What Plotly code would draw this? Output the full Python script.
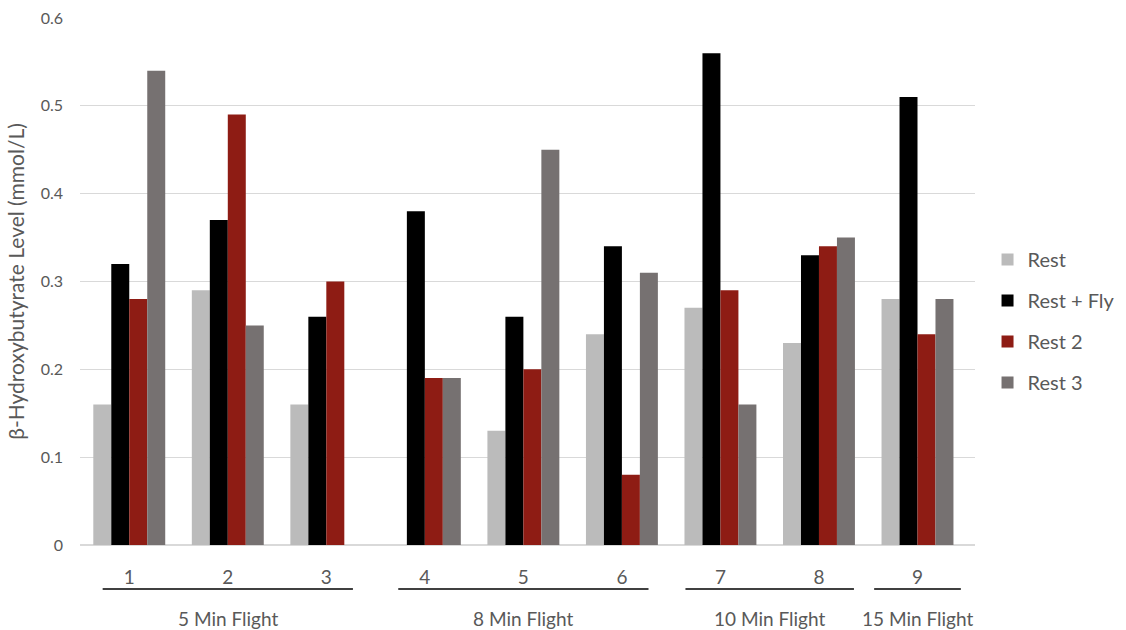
import plotly.graph_objects as go

categories = ["1", "2", "3", "4", "5", "6", "7", "8", "9"]
rest = [0.16, 0.29, 0.16, None, 0.13, 0.24, 0.27, 0.23, 0.28]
rest_fly = [0.32, 0.37, 0.26, 0.38, 0.26, 0.34, 0.56, 0.33, 0.51]
rest2 = [0.28, 0.49, 0.30, 0.19, 0.20, 0.08, 0.29, 0.34, 0.24]
rest3 = [0.54, 0.25, None, 0.19, 0.45, 0.31, 0.16, 0.35, 0.28]

group_names = ["5 Min Flight", "8 Min Flight", "10 Min Flight", "15 Min Flight"]
group_members = [["1", "2", "3"], ["4", "5", "6"], ["7", "8"], ["9"]]

series = [
    ("Rest", rest, "#BBBBBB"),
    ("Rest + Fly", rest_fly, "#000000"),
    ("Rest 2", rest2, "#8E1C14"),
    ("Rest 3", rest3, "#767171"),
]

FONT = "Lato, 'Open Sans', Arial, sans-serif"
TXT = "#595959"

fig = go.Figure()
for i, (name, vals, col) in enumerate(series):
    fig.add_trace(go.Bar(
        x=categories, y=vals, name=name,
        marker=dict(color=col, line=dict(width=0)),
        legendgroup=f"g{i}",
    ))

shapes = []
annotations = []
for gname, members in zip(group_names, group_members):
    idx = [categories.index(m) for m in members]
    mid = (min(idx) + max(idx)) / 2
    half = (len(idx) * 0.83 + 0.05) / 2
    x0, x1 = mid - half, mid + half
    shapes.append(dict(type="line", xref="x", yref="paper",
                       x0=x0, x1=x1, y0=-0.0835, y1=-0.0835,
                       line=dict(color="#000000", width=1.6)))
    annotations.append(dict(text=gname, xref="x", yref="paper",
                            x=mid, y=-0.139, showarrow=False,
                            yanchor="middle", xanchor="center",
                            font=dict(family=FONT, size=19, color=TXT)))

fig.update_layout(
    width=1126, height=630,
    margin=dict(l=80, r=151, t=18, b=85, autoexpand=False),
    paper_bgcolor="white", plot_bgcolor="white",
    barmode="group", bargap=0.27, bargroupgap=0,
    font=dict(family=FONT, color=TXT),
    shapes=shapes, annotations=annotations,
    legend=dict(x=1.014, xanchor="left", y=0.425, yanchor="middle",
                font=dict(family=FONT, size=20, color=TXT),
                tracegroupgap=12, itemwidth=30, bgcolor="rgba(0,0,0,0)"),
    showlegend=True,
)
fig.update_xaxes(type="category", showgrid=False, showline=True,
                 linecolor="#D9D9D9", linewidth=1, ticks="",
                 tickfont=dict(family=FONT, size=19, color=TXT),
                 ticklabelstandoff=15, automargin=False)
fig.update_yaxes(range=[0, 0.6], dtick=0.1,
                 showgrid=True, gridcolor="#D9D9D9", gridwidth=1,
                 zeroline=True, zerolinecolor="#D9D9D9", showline=False,
                 tickfont=dict(family=FONT, size=16, color=TXT),
                 ticklabelstandoff=16, automargin=False,
                 title=dict(text="β-Hydroxybutyrate Level (mmol/L)",
                            font=dict(family=FONT, size=21, color=TXT),
                            standoff=10))

fig.write_html("out.html", config={"displayModeBar": False},
               post_script="document.body.style.margin='0px';")
